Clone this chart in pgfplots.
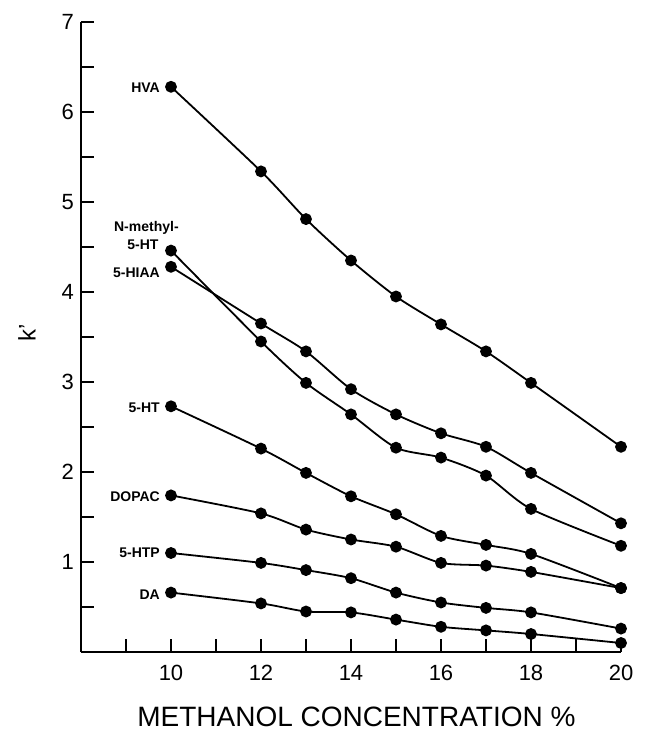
\documentclass[border=0pt]{standalone}
\usepackage{fontspec}
\setmainfont{Liberation Sans}
\usepackage{pgfplots}
\pgfplotsset{compat=1.18}
\pgfplotsset{ser/.style={black, solid, line width=0.9pt, smooth, tension=0.45, mark=*, mark size=2.5pt, mark options={solid, fill=black}}}

\begin{document}
\begin{tikzpicture}
\begin{axis}[
  scale only axis, width=270pt, height=315pt,
  xmin=8, xmax=20, ymin=0, ymax=7,
  axis x line*=bottom, axis y line*=left,
  axis line style={line width=1.1pt,-},
  xtick={10,12,...,20}, minor xtick={9,11,...,19},
  ytick={1,...,7}, minor ytick={0.5,1.5,...,6.5},
  tick align=inside, major tick length=6.5pt, minor tick length=6.5pt,
  tick style={line width=0.9pt, black},
  ticklabel style={font=\fontsize{11}{13}\selectfont},
  xticklabel style={yshift=-3pt},
  /pgf/number format/assume math mode=true,
  xlabel={METHANOL CONCENTRATION \%},
  xlabel style={font=\fontsize{14}{16}\selectfont, at={(axis description cs:0.51,-0.103)}, anchor=center},
  ylabel={k'},
  ylabel style={font=\fontsize{12}{14}\selectfont, at={(axis description cs:-0.1,0.506)}, anchor=center},
  clip=false,
]
% HVA
\addplot[ser] coordinates {(10,6.28) (12,5.34) (13,4.81) (14,4.35) (15,3.95) (16,3.64) (17,3.34) (18,2.99) (20,2.28)};
% N-methyl-5-HT
\addplot[ser] coordinates {(10,4.46) (12,3.45) (13,2.99) (14,2.64) (15,2.27) (16,2.16) (17,1.96) (18,1.59) (20,1.18)};
% 5-HIAA
\addplot[ser] coordinates {(10,4.28) (12,3.65) (13,3.34) (14,2.92) (15,2.64) (16,2.43) (17,2.28) (18,1.99) (20,1.43)};
% 5-HT
\addplot[ser] coordinates {(10,2.73) (12,2.26) (13,1.99) (14,1.73) (15,1.53) (16,1.29) (17,1.19) (18,1.09) (20,0.71)};
% DOPAC
\addplot[ser] coordinates {(10,1.74) (12,1.54) (13,1.36) (14,1.25) (15,1.17) (16,0.99) (17,0.96) (18,0.89) (20,0.71)};
% 5-HTP
\addplot[ser] coordinates {(10,1.10) (12,0.99) (13,0.91) (14,0.82) (15,0.66) (16,0.55) (17,0.49) (18,0.44) (20,0.26)};
% DA
\addplot[ser] coordinates {(10,0.66) (12,0.54) (13,0.45) (14,0.44) (15,0.36) (16,0.28) (17,0.24) (18,0.20) (20,0.10)};

\begin{scope}[every node/.style={font=\fontsize{7}{8}\selectfont\bfseries, inner sep=0pt, anchor=east}]
\node at (axis cs:9.76,6.27) {HVA};
\node at (axis cs:10.18,4.71) {N-methyl-};
\node at (axis cs:9.73,4.52) {5-HT};
\node at (axis cs:9.76,4.21) {5-HIAA};
\node at (axis cs:9.76,2.71) {5-HT};
\node at (axis cs:9.76,1.73) {DOPAC};
\node at (axis cs:9.76,1.10) {5-HTP};
\node at (axis cs:9.76,0.64) {DA};
\end{scope}
\coordinate (sw) at (rel axis cs:0,0);
\coordinate (ne) at (rel axis cs:1,1);
\end{axis}
\pgfresetboundingbox
\path ([xshift=-40.5pt,yshift=-43.5pt]sw) rectangle ([xshift=13.5pt,yshift=11pt]ne);
\end{tikzpicture}
\end{document}
